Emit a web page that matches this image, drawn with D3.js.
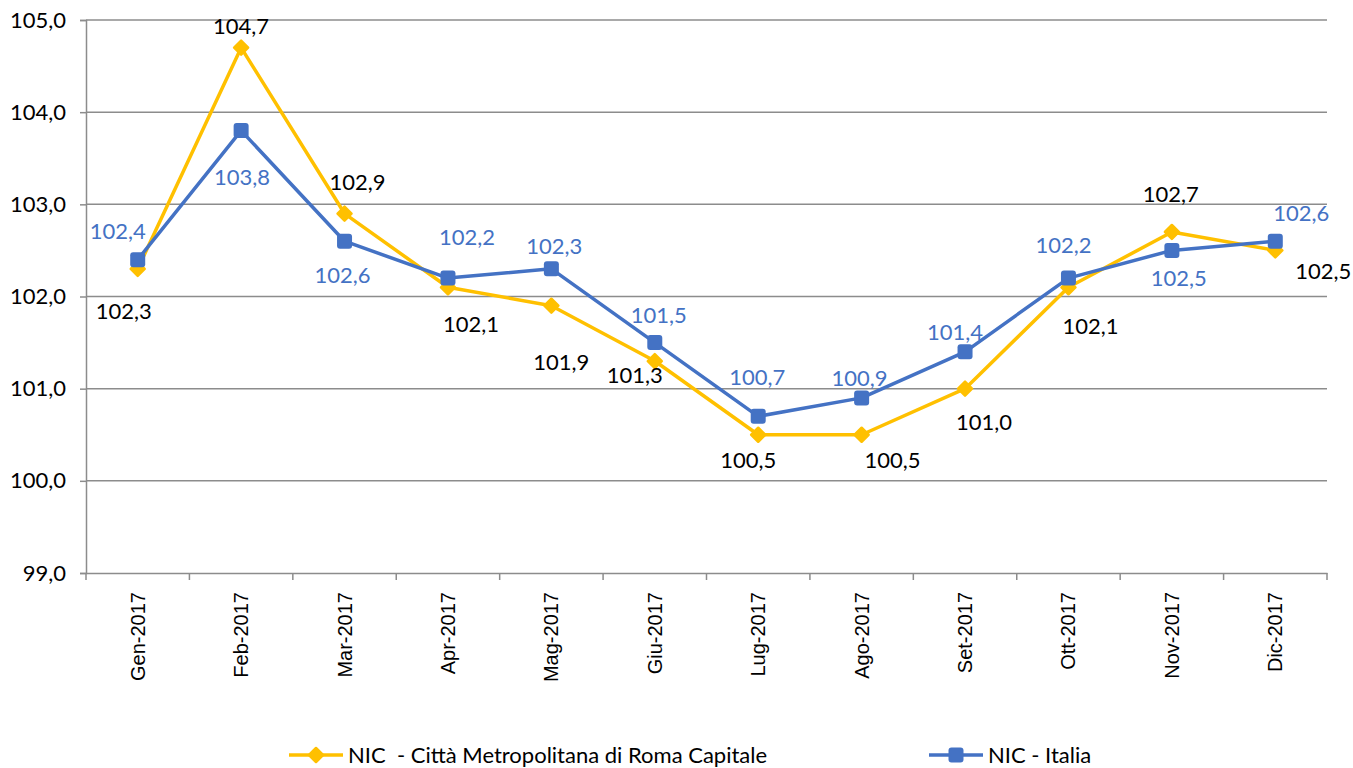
<!DOCTYPE html>
<html>
<head>
<meta charset="utf-8">
<script src="https://cdn.jsdelivr.net/npm/d3@7"></script>
<style>
  body { margin: 0; background: #fff; }
  svg { display: block; }
</style>
</head>
<body>
<script>
  // data
  const months = ["Gen-2017", "Feb-2017", "Mar-2017", "Apr-2017", "Mag-2017", "Giu-2017",
    "Lug-2017", "Ago-2017", "Set-2017", "Ott-2017", "Nov-2017", "Dic-2017"];
  const roma = [102.3, 104.7, 102.9, 102.1, 101.9, 101.3, 100.5, 100.5, 101.0, 102.1, 102.7, 102.5];
  const italia = [102.4, 103.8, 102.6, 102.2, 102.3, 101.5, 100.7, 100.9, 101.4, 102.2, 102.5, 102.6];
  const yTicks = [99, 100, 101, 102, 103, 104, 105];
  const romaName = "NIC  - Città Metropolitana di Roma Capitale";
  const italiaName = "NIC - Italia";

  // label offsets from the point (layout only)
  const romaLabelOff = [[-14, 42], [0, -21], [13, -31], [23, 37], [10, 57], [-20, 14], [-10, 26],
    [31, 26], [19, 34], [22, 39], [-1, -38], [48, 21]];
  const italiaLabelOff = [[-20, -28], [1, 47], [-2, 34], [19, -41], [3, -23], [4, -27], [-1, -39],
    [-2, -20], [-10, -20], [-5, -33], [7, 28], [26, -28]];

  (function() {
    const W = 1353, H = 768;
    const plotLeft = 86, plotRight = 1327, plotTop = 20, plotBottom = 573;
    const yellow = "#FFC000", blue = "#4472C4", grid = "#8c8c8c";
    const fontC = "Lato, 'Open Sans', sans-serif";

    const svg = d3.select("body").append("svg").attr("width", W).attr("height", H);

    const x = d3.scaleBand().domain(months).range([plotLeft, plotRight]);
    const y = d3.scaleLinear().domain([99, 105]).range([plotBottom, plotTop]);
    const cx = (i) => x(months[i]) + x.bandwidth() / 2;

    // gridlines
    svg.append("g").selectAll("line").data(yTicks.slice(1)).join("line")
      .attr("x1", plotLeft).attr("x2", plotRight)
      .attr("y1", (d) => y(d)).attr("y2", (d) => y(d))
      .attr("stroke", grid).attr("stroke-width", 1.5);

    // y axis
    const yAxis = d3.axisLeft(y).tickValues(yTicks).tickSize(6)
      .tickFormat((d) => d3.format(".1f")(d).replace(".", ","));
    const gy = svg.append("g").attr("transform", `translate(${plotLeft},0)`).call(yAxis);
    gy.select(".domain").attr("stroke", grid).attr("stroke-width", 1.5);
    gy.selectAll(".tick line").attr("stroke", grid).attr("stroke-width", 1.5);
    gy.selectAll(".tick text").attr("font-family", fontC).attr("font-size", 22)
      .attr("fill", "#000").attr("x", -20);

    // x axis
    const xAxis = d3.axisBottom(x).tickSize(0);
    const gx = svg.append("g").attr("transform", `translate(0,${plotBottom})`).call(xAxis);
    gx.select(".domain").attr("stroke", grid).attr("stroke-width", 1.5);
    gx.selectAll(".tick text")
      .attr("font-family", "'Liberation Sans', Arial, sans-serif").attr("font-size", 20)
      .attr("fill", "#000")
      .attr("transform", "rotate(-90)")
      .attr("text-anchor", "end")
      .attr("x", -19).attr("y", 0).attr("dy", "0.35em");
    // tick marks between categories
    svg.append("g").selectAll("line").data(d3.range(months.length + 1)).join("line")
      .attr("x1", (i) => plotLeft + i * x.step()).attr("x2", (i) => plotLeft + i * x.step())
      .attr("y1", plotBottom).attr("y2", plotBottom + 7)
      .attr("stroke", grid).attr("stroke-width", 1.5);

    const line = d3.line().x((d, i) => cx(i)).y((d) => y(d));

    function drawSeries(values, color, shape, labelColor, offsets) {
      const g = svg.append("g");
      g.append("path").datum(values)
        .attr("fill", "none").attr("stroke", color).attr("stroke-width", 3.5)
        .attr("stroke-linejoin", "round").attr("d", line);
      if (shape === "diamond") {
        g.selectAll("path.m").data(values).join("path").attr("class", "m")
          .attr("d", "M0,-7L7,0L0,7L-7,0Z")
          .attr("transform", (d, i) => `translate(${cx(i)},${y(d)})`)
          .attr("fill", color).attr("stroke", color).attr("stroke-width", 2.5)
          .attr("stroke-linejoin", "round");
      } else {
        g.selectAll("rect.m").data(values).join("rect").attr("class", "m")
          .attr("x", (d, i) => cx(i) - 7.5).attr("y", (d) => y(d) - 7.5)
          .attr("width", 15).attr("height", 15).attr("rx", 3)
          .attr("fill", color);
      }
      g.selectAll("text").data(values).join("text")
        .attr("x", (d, i) => cx(i) + offsets[i][0])
        .attr("y", (d, i) => y(d) + offsets[i][1])
        .attr("dy", "0.35em")
        .attr("text-anchor", "middle")
        .attr("font-family", fontC).attr("font-size", 22)
        .attr("fill", labelColor)
        .text((d) => d3.format(".1f")(d).replace(".", ","));
    }

    drawSeries(roma, yellow, "diamond", "#000", romaLabelOff);
    drawSeries(italia, blue, "square", blue, italiaLabelOff);

    // legend
    const legend = [
      { name: romaName, color: yellow, shape: "diamond", x: 289 },
      { name: italiaName, color: blue, shape: "square", x: 929 }
    ];
    const ly = 755;
    legend.forEach((l) => {
      const g = svg.append("g").attr("transform", `translate(${l.x},${ly})`);
      g.append("line").attr("x1", 0).attr("x2", 54).attr("y1", 0).attr("y2", 0)
        .attr("stroke", l.color).attr("stroke-width", 3.5);
      if (l.shape === "diamond") {
        g.append("path").attr("d", "M27,-7L34,0L27,7L20,0Z").attr("fill", l.color)
          .attr("stroke", l.color).attr("stroke-width", 2.5).attr("stroke-linejoin", "round");
      } else {
        g.append("rect").attr("x", 19.5).attr("y", -7.5).attr("width", 15).attr("height", 15)
          .attr("rx", 3).attr("fill", l.color);
      }
      g.append("text").attr("x", 59).attr("y", 0).attr("dy", "0.35em")
        .attr("font-family", fontC).attr("font-size", 22).attr("fill", "#000")
        .style("white-space", "pre")
        .text(l.name);
    });
  })();
</script>
</body>
</html>
